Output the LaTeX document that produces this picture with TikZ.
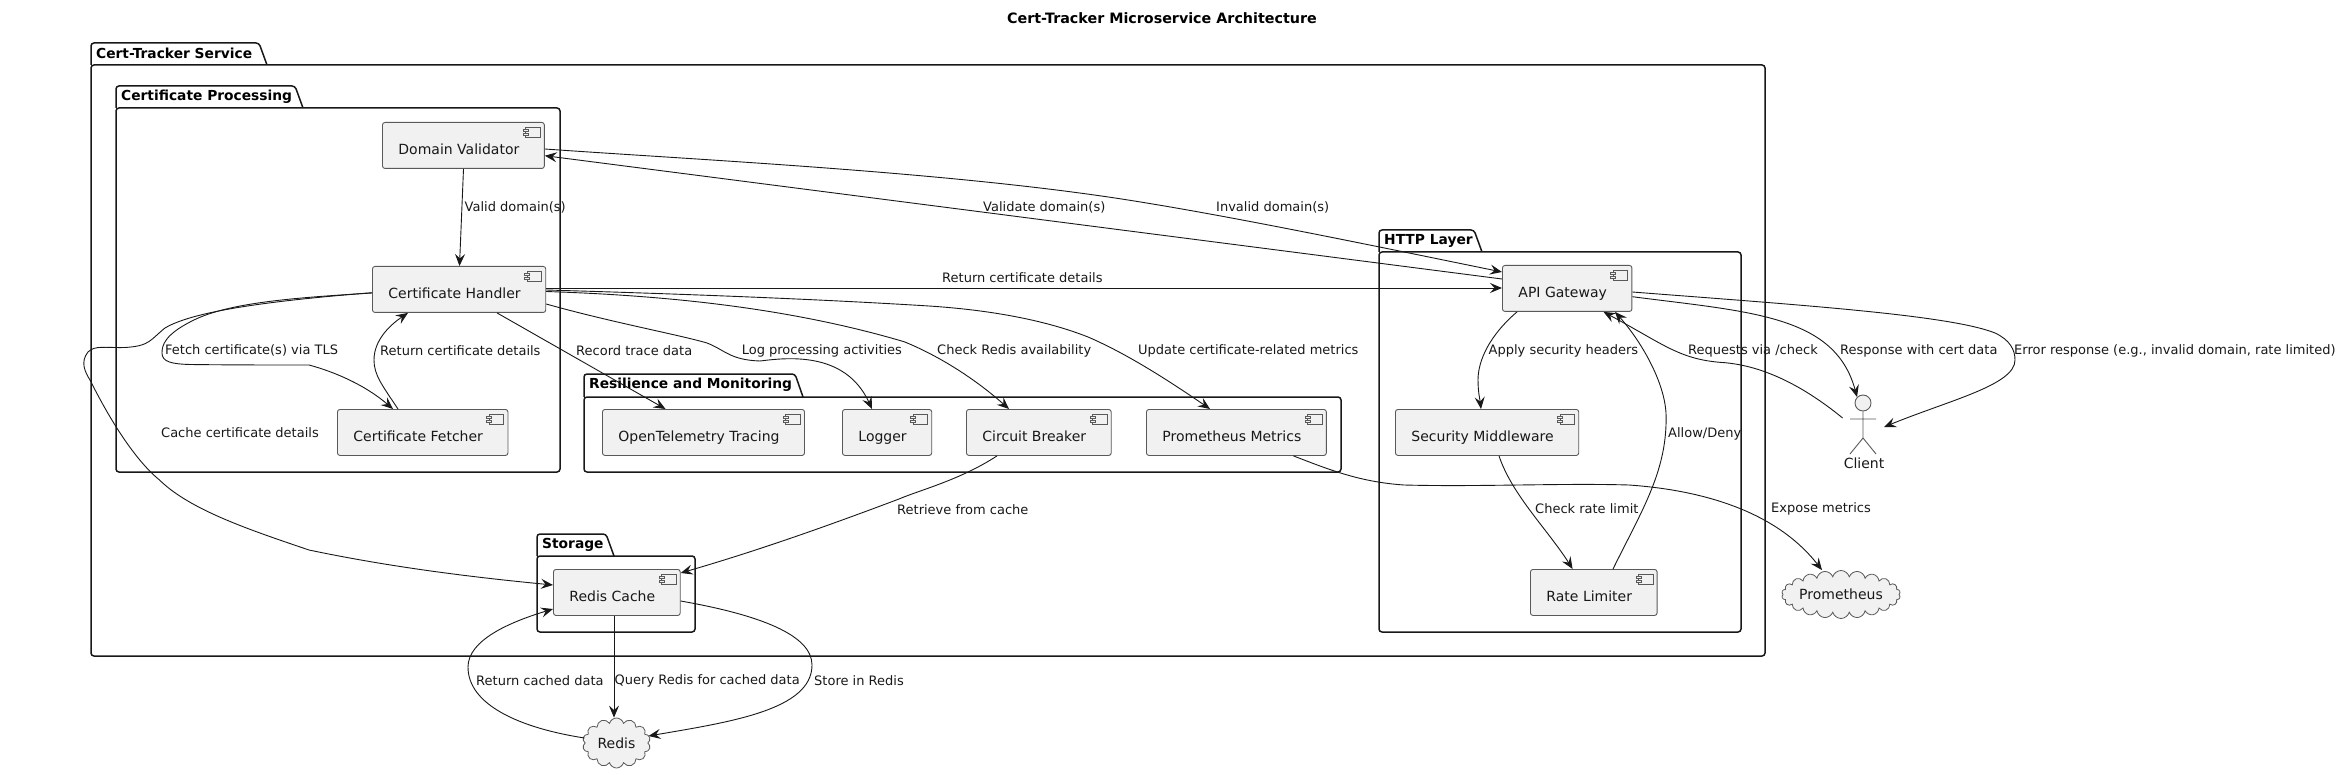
\documentclass[tikz,border=0pt]{standalone}
\usepackage{fontspec}
\setmainfont{DejaVu Sans}
\usetikzlibrary{arrows.meta,shapes.symbols}
\definecolor{boxfill}{HTML}{F1F1F1}
\definecolor{ink}{HTML}{181818}
\tikzset{
  pkg/.style={draw=ink,line width=1.5pt,rounded corners=3pt},
  pkgname/.style={anchor=west,inner sep=0pt,font=\fontsize{13.8}{17}\selectfont\bfseries},
  comp/.style={draw=black!65,line width=.9pt,fill=boxfill,rounded corners=2.5pt,anchor=north west,
    inner xsep=16pt,inner ysep=0pt,text height=32pt,text depth=14pt,text=ink,
    font=\fontsize{14}{17}\selectfont,execute at end node={\hspace{9pt}}},
  icon/.style={draw=black!65,line width=.9pt,fill=boxfill},
  storecloud/.style={cloud,cloud ignores aspect,draw=black!65,line width=.8pt,fill=boxfill,
    inner sep=0pt,text=ink,font=\fontsize{14}{17}\selectfont},
  link/.style={draw=ink,line width=.9pt,-{Stealth[length=12pt,width=10pt,inset=4.5pt]}},
  lbl/.style={anchor=west,inner sep=0pt,text=ink,font=\fontsize{13}{16}\selectfont}
}
\begin{document}
\begin{tikzpicture}[x=1pt,y=-1pt]
\useasboundingbox (0,0) rectangle (2339,775);
\node[font=\fontsize{14.3}{17}\selectfont\bfseries] (title) at (1162,18.5) {Cert-Tracker Microservice Architecture};

% packages
\foreach \id/\l/\t/\tr/\b/\r/\bm/\name in {
  service/91/43/259/65/1765/656/Cert-Tracker Service,
  certproc/116/86/295/108/560/472/Certificate Processing,
  resil/584/374/795/397/1341/472/Resilience and Monitoring,
  storage/537/534/606/556/695/632/Storage,
  httplayer/1379/230/1474/252/1741/632/HTTP Layer}{
  \draw[pkg] (\l,\b) |- (\tr,\t) -- (\tr+8,\b) (\l,\b) rectangle (\r,\bm);
  \node[pkgname] (\id) at (\l+5,\t+10.5) {\name};
}

% components
\node[comp] (dv) at (382,122) {Domain Validator};
\node[comp] (ch) at (372,266) {Certificate Handler};
\node[comp] (fetcher) at (337,409) {Certificate Fetcher};
\node[comp] (otel) at (602,409) {OpenTelemetry Tracing};
\node[comp] (logger) at (842,409) {Logger};
\node[comp] (breaker) at (966,409) {Circuit Breaker};
\node[comp] (metrics) at (1146,409) {Prometheus Metrics};
\node[comp] (cache) at (553,569) {Redis Cache};
\node[comp] (api) at (1502,265) {API Gateway};
\node[comp] (secmw) at (1395,409) {Security Middleware};
\node[comp] (limiter) at (1530,569) {Rate Limiter};
\foreach \n in {dv,ch,fetcher,otel,logger,breaker,metrics,cache,api,secmw,limiter}{
  \draw[icon] ([xshift=-4.5pt,yshift=-5pt]\n.north east) rectangle ++(-14.7,10);
  \draw[icon] ([xshift=-16.5pt,yshift=-7pt]\n.north east) rectangle ++(-5,2.4);
  \draw[icon] ([xshift=-16.5pt,yshift=-11pt]\n.north east) rectangle ++(-5,2.4);
}

% clouds and the actor
\node[storecloud,cloud puffs=14,minimum width=68pt,minimum height=50pt] (redis) at (616.5,743) {Redis};
\node[storecloud,cloud puffs=22,minimum width=118pt,minimum height=48pt] (prom) at (1841,594.5) {Prometheus};
\node[circle,draw=black!65,line width=.9pt,fill=boxfill,minimum size=16pt,inner sep=0pt] (clienthead) at (1863,403) {};
\coordinate (clienthip) at (1863,438);
\draw[draw=black!65,line width=.9pt] (clienthead.south) -- (clienthip) -- (1850,454) (clienthip) -- (1876,454) (1850,419) -- (1876,419);
\node[inner sep=0pt,font=\fontsize{14}{17}\selectfont,text=ink] (client) at (1864,463) {Client};
\coordinate (clientfrom) at (1842.6,418);
\coordinate (clientto) at (1884,427);

% connectors
\draw[link] (dv.south -| 463.5,0) -- (ch.north -| 459.5,0);
\draw[link] (dv.east |- 0,149) .. controls (700,160) and (950,172) .. (1128,200) .. controls (1230,216) and (1370,245) .. (api.west |- 0,272);
\draw[link] (api.west |- 0,279) -- (dv.east |- 0,155.7);
\draw[link] (ch.east |- 0,288) -- (api.west |- 0,288);
\draw[link] (ch.east |- 0,290) .. controls (650,293) and (800,298) .. (929,306) .. controls (990,310) and (1045,320) .. (1088,337) .. controls (1130,355) and (1175,385) .. (metrics.north -| 1210,0);
\draw[link] (ch.east |- 0,291.5) .. controls (650,295) and (780,305) .. (904,341.7) .. controls (925,350) and (965,370) .. (breaker.north -| 1009,0);
\draw[link] (ch.east |- 0,304) .. controls (610,322) and (680,335) .. (707,343) .. controls (725,350) and (730,360) .. (760,361) .. controls (785,358) and (845,350) .. (logger.north -| 872,0);
\draw[link] (ch.south -| 497,0) -- (otel.north -| 665.5,0);
\draw[link] (ch.west |- 0,293) .. controls (290,298) and (225,303) .. (190,322) .. controls (165,335) and (162,345) .. (162,353) .. controls (162,362) and (172,364) .. (190,364.5) .. controls (230,365) and (270,365) .. (309,365) .. controls (335,372) and (365,385) .. (fetcher.north -| 393,0);
\draw[link] (fetcher.north -| 398,0) .. controls (382,385) and (374,375) .. (374,360) .. controls (374,340) and (390,325) .. (ch.south -| 408,0);
\draw[link] (ch.west |- 0,292.7) .. controls (280,300) and (195,310) .. (165,328) .. controls (150,340) and (150,346) .. (125,347.5) .. controls (105,348) and (95,345) .. (88,352) .. controls (80,362) and (85,372) .. (90,380) .. controls (110,420) and (135,460) .. (159.5,480) .. controls (190,510) and (250,530) .. (309,550) .. controls (390,567) and (470,577) .. (cache.west |- 0,585);
\draw[link] (breaker.south -| 997,0) .. controls (960,480) and (920,490) .. (899,499) .. controls (830,525) and (760,550) .. (cache.east |- 0,573);
\draw[link] (cache.south -| 614,0) -- (redis.north -| 614,0);
\draw[link] (redis.west |- 0,738) .. controls (520,728) and (468,705) .. (468,667) .. controls (468,640) and (510,622) .. (cache.west |- 0,609);
\draw[link] (cache.east |- 0,601) .. controls (760,615) and (812,635) .. (812,665) .. controls (812,710) and (730,722) .. (redis.east |- 0,736);
\draw[link] (api.south -| 1517,0) .. controls (1490,335) and (1478,360) .. (1478,380) .. controls (1478,392) and (1480,400) .. (secmw.north -| 1481,0);
\draw[link] (secmw.south -| 1499,0) .. controls (1512,495) and (1548,530) .. (limiter.north -| 1572.6,0);
\draw[link] (limiter.north -| 1613,0) .. controls (1642,510) and (1668,470) .. (1666,413) .. controls (1664,380) and (1640,340) .. (api.south -| 1615,0);
\draw[link] (clientfrom) .. controls (1790,375) and (1750,365) .. (1725,362.7) .. controls (1680,360) and (1665,345) .. (api.south -| 1603.5,0);
\draw[link] (api.east |- 0,296.7) .. controls (1750,312) and (1835,315) .. (clienthead.north west);
\draw[link] (api.east |- 0,292) .. controls (1800,305) and (1950,315) .. (1995,333) .. controls (2010,340) and (2015,350) .. (2015,360) .. controls (2015,385) and (1950,400) .. (clientto);
\draw[link] (metrics.south -| 1293.4,0) .. controls (1330,470) and (1360,482) .. (1404,485) .. controls (1480,487) and (1560,483) .. (1629,485) .. controls (1700,490) and (1775,510) .. (prom.north -| 1822,0);

% connector labels
\node[lbl] (lvalid) at (464.5,207) {Valid domain(s)};
\node[lbl] (linvalid) at (1216,207) {Invalid domain(s)};
\node[lbl] (lvalidate) at (983,207) {Validate domain(s)};
\node[lbl] (lreturn) at (942,277.7) {Return certificate details};
\node[lbl] (lfetch) at (165,350.7) {Fetch certificate(s) via TLS};
\node[lbl] (lreturnb) at (380,350.7) {Return certificate details};
\node[lbl] (ltrace) at (576,350.7) {Record trace data};
\node[lbl] (llog) at (741.6,350.7) {Log processing activities};
\node[lbl] (lcheck) at (937,350.7) {Check Redis availability};
\node[lbl] (lupdate) at (1138,350.7) {Update certificate-related metrics};
\node[lbl] (lcache) at (161,433) {Cache certificate details};
\node[lbl] (lretrieve) at (897,510) {Retrieve from cache};
\node[lbl] (lquery) at (614.5,680.5) {Query Redis for cached data};
\node[lbl] (lcached) at (476,680.5) {Return cached data};
\node[lbl] (lstore) at (814,680.5) {Store in Redis};
\node[lbl] (lheaders) at (1488.5,350.7) {Apply security headers};
\node[lbl] (lrate) at (1535,509) {Check rate limit};
\node[lbl] (lallow) at (1668,434) {Allow/Deny};
\node[lbl] (lreq) at (1688,350.7) {Requests via /check};
\node[lbl] (lresp) at (1840,350.7) {Response with cert data};
\node[lbl] (lerr) at (2014,350.7) {Error response (e.g., invalid domain, rate limited)};
\node[lbl] (lexpose) at (1771,509) {Expose metrics};
\end{tikzpicture}
\end{document}
